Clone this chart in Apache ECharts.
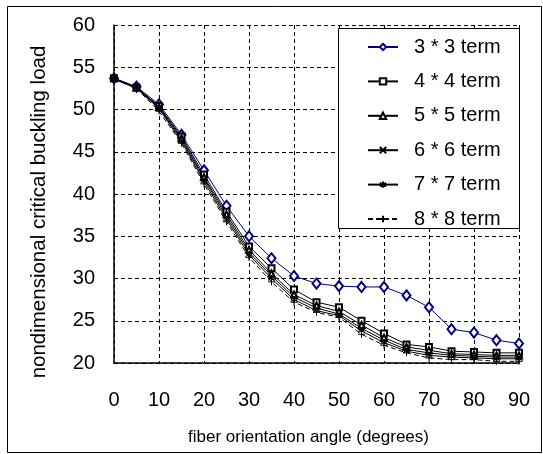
<!DOCTYPE html>
<html>
<head>
<meta charset="utf-8">
<script src="https://cdn.jsdelivr.net/npm/echarts@6/dist/echarts.min.js"></script>
<style>html,body{margin:0;padding:0;background:#fff}#c{width:543px;height:454px}</style>
</head>
<body>
<div id="c"></div>
<script>
const angles = [0,5,10,15,20,25,30,35,40,45,50,55,60,65,70,75,80,85,90];
const term3 = [53.7,52.7,50.6,47.0,42.8,38.6,35.0,32.4,30.3,29.4,29.1,29.0,29.0,28.0,26.6,24.0,23.6,22.7,22.3];
const term4 = [53.7,52.6,50.4,46.8,42.3,37.9,33.8,31.2,28.7,27.2,26.6,25.0,23.5,22.2,21.9,21.4,21.3,21.2,21.2];
const term5 = [53.7,52.6,50.3,46.6,42.0,37.6,33.4,30.6,28.1,26.8,26.1,24.5,23.0,21.9,21.5,21.1,21.0,20.9,20.9];
const term6 = [53.6,52.6,50.2,46.4,41.8,37.3,33.1,30.3,27.8,26.5,25.8,24.1,22.7,21.6,21.2,20.9,20.8,20.7,20.7];
const term7 = [53.6,52.5,50.1,46.2,41.5,37.0,32.8,30.0,27.5,26.2,25.6,23.8,22.4,21.4,20.9,20.7,20.6,20.5,20.5];
const term8 = [53.6,52.5,49.8,46.0,41.2,36.7,32.5,29.6,27.2,26.0,25.4,23.4,22.1,21.2,20.6,20.4,20.4,20.2,20.2];
const seriesNames = ['3 * 3 term','4 * 4 term','5 * 5 term','6 * 6 term','7 * 7 term','8 * 8 term'];
const seriesValues = [term3,term4,term5,term6,term7,term8];
const xTicks = {min:0,max:90,step:10};
const yTicks = {min:20,max:60,step:5};

const FONT = '"Liberation Sans",Arial,sans-serif';
const symbols = [
  {symbol:'emptyDiamond', size:[8,10], color:'#000080', line:'solid'},
  {symbol:'emptyRect', size:6, color:'#000', line:'solid'},
  {symbol:'emptyTriangle', size:6, color:'#000', line:'solid'},
  {symbol:'path://M0,0L10,10M10,0L0,10', size:6, color:'#000', line:'solid', path:true},
  {symbol:'path://M5,0L5,10M0,2.5L10,7.5M0,7.5L10,2.5', size:7, color:'#000', line:'solid', path:true},
  {symbol:'path://M5,0L5,10M0,5L10,5', size:7, color:'#000', line:[5,3], path:true}
];

const chart = echarts.init(document.getElementById('c'), null, {renderer:'canvas'});
const series = seriesNames.map((name,i)=>{
  const s = symbols[i];
  return {
    name, type:'line',
    data: angles.map((a,j)=>[a, seriesValues[i][j]]),
    symbol: s.symbol, symbolSize: s.size, showAllSymbol:true,
    lineStyle:{color:s.color, width:1, type:s.line},
    itemStyle: s.path ? {color:'rgba(0,0,0,0)', borderColor:s.color, borderWidth:1} : {color:s.color, borderColor:s.color, borderWidth:1},
    emphasis:{disabled:true}
  };
});

chart.setOption({
  animation:false,
  backgroundColor:'#fff',
  grid:{left:114, right:24, top:25, bottom:91, containLabel:false},
  xAxis:{
    type:'value', min:xTicks.min, max:xTicks.max, interval:xTicks.step,
    name:'fiber orientation angle (degrees)', nameLocation:'middle', nameGap:66,
    nameTextStyle:{fontFamily:FONT, fontSize:17, color:'#000', padding:[0,16,0,0]},
    axisLine:{show:true, onZero:false, lineStyle:{color:'#000', width:1.5}},
    axisTick:{show:false},
    axisLabel:{fontFamily:FONT, fontSize:20, color:'#000', margin:27},
    splitLine:{show:true, lineStyle:{color:'#000', width:1, type:[4,3]}}
  },
  yAxis:{
    type:'value', min:yTicks.min, max:yTicks.max, interval:yTicks.step,
    name:'nondimensional critical buckling load', nameLocation:'middle', nameGap:64,
    nameTextStyle:{fontFamily:FONT, fontSize:20.5, color:'#000', padding:[0,36,0,0]},
    axisLine:{show:true, onZero:false, lineStyle:{color:'#000', width:1.5}},
    axisTick:{show:false},
    axisLabel:{fontFamily:FONT, fontSize:20, color:'#000', margin:19},
    splitLine:{show:true, lineStyle:{color:'#000', width:1, type:[4,3]}}
  },
  legend:{
    orient:'vertical', left:362, top:31, z:6,
    itemWidth:30, itemHeight:8, itemGap:12.4,
    textStyle:{fontFamily:FONT, fontSize:20, color:'#000', lineHeight:22, padding:[0,0,0,11]},
    data:seriesNames
  },
  graphic:[
    {type:'rect', z:3, silent:true, shape:{x:338.5, y:28.5, width:181, height:200}, style:{fill:'#fff', stroke:'#000', lineWidth:1}},
    {type:'rect', z:0, silent:true, shape:{x:7.5, y:6.5, width:534, height:446}, style:{fill:'none', stroke:'#000', lineWidth:1}}
  ],
  series
});
</script>
</body>
</html>
